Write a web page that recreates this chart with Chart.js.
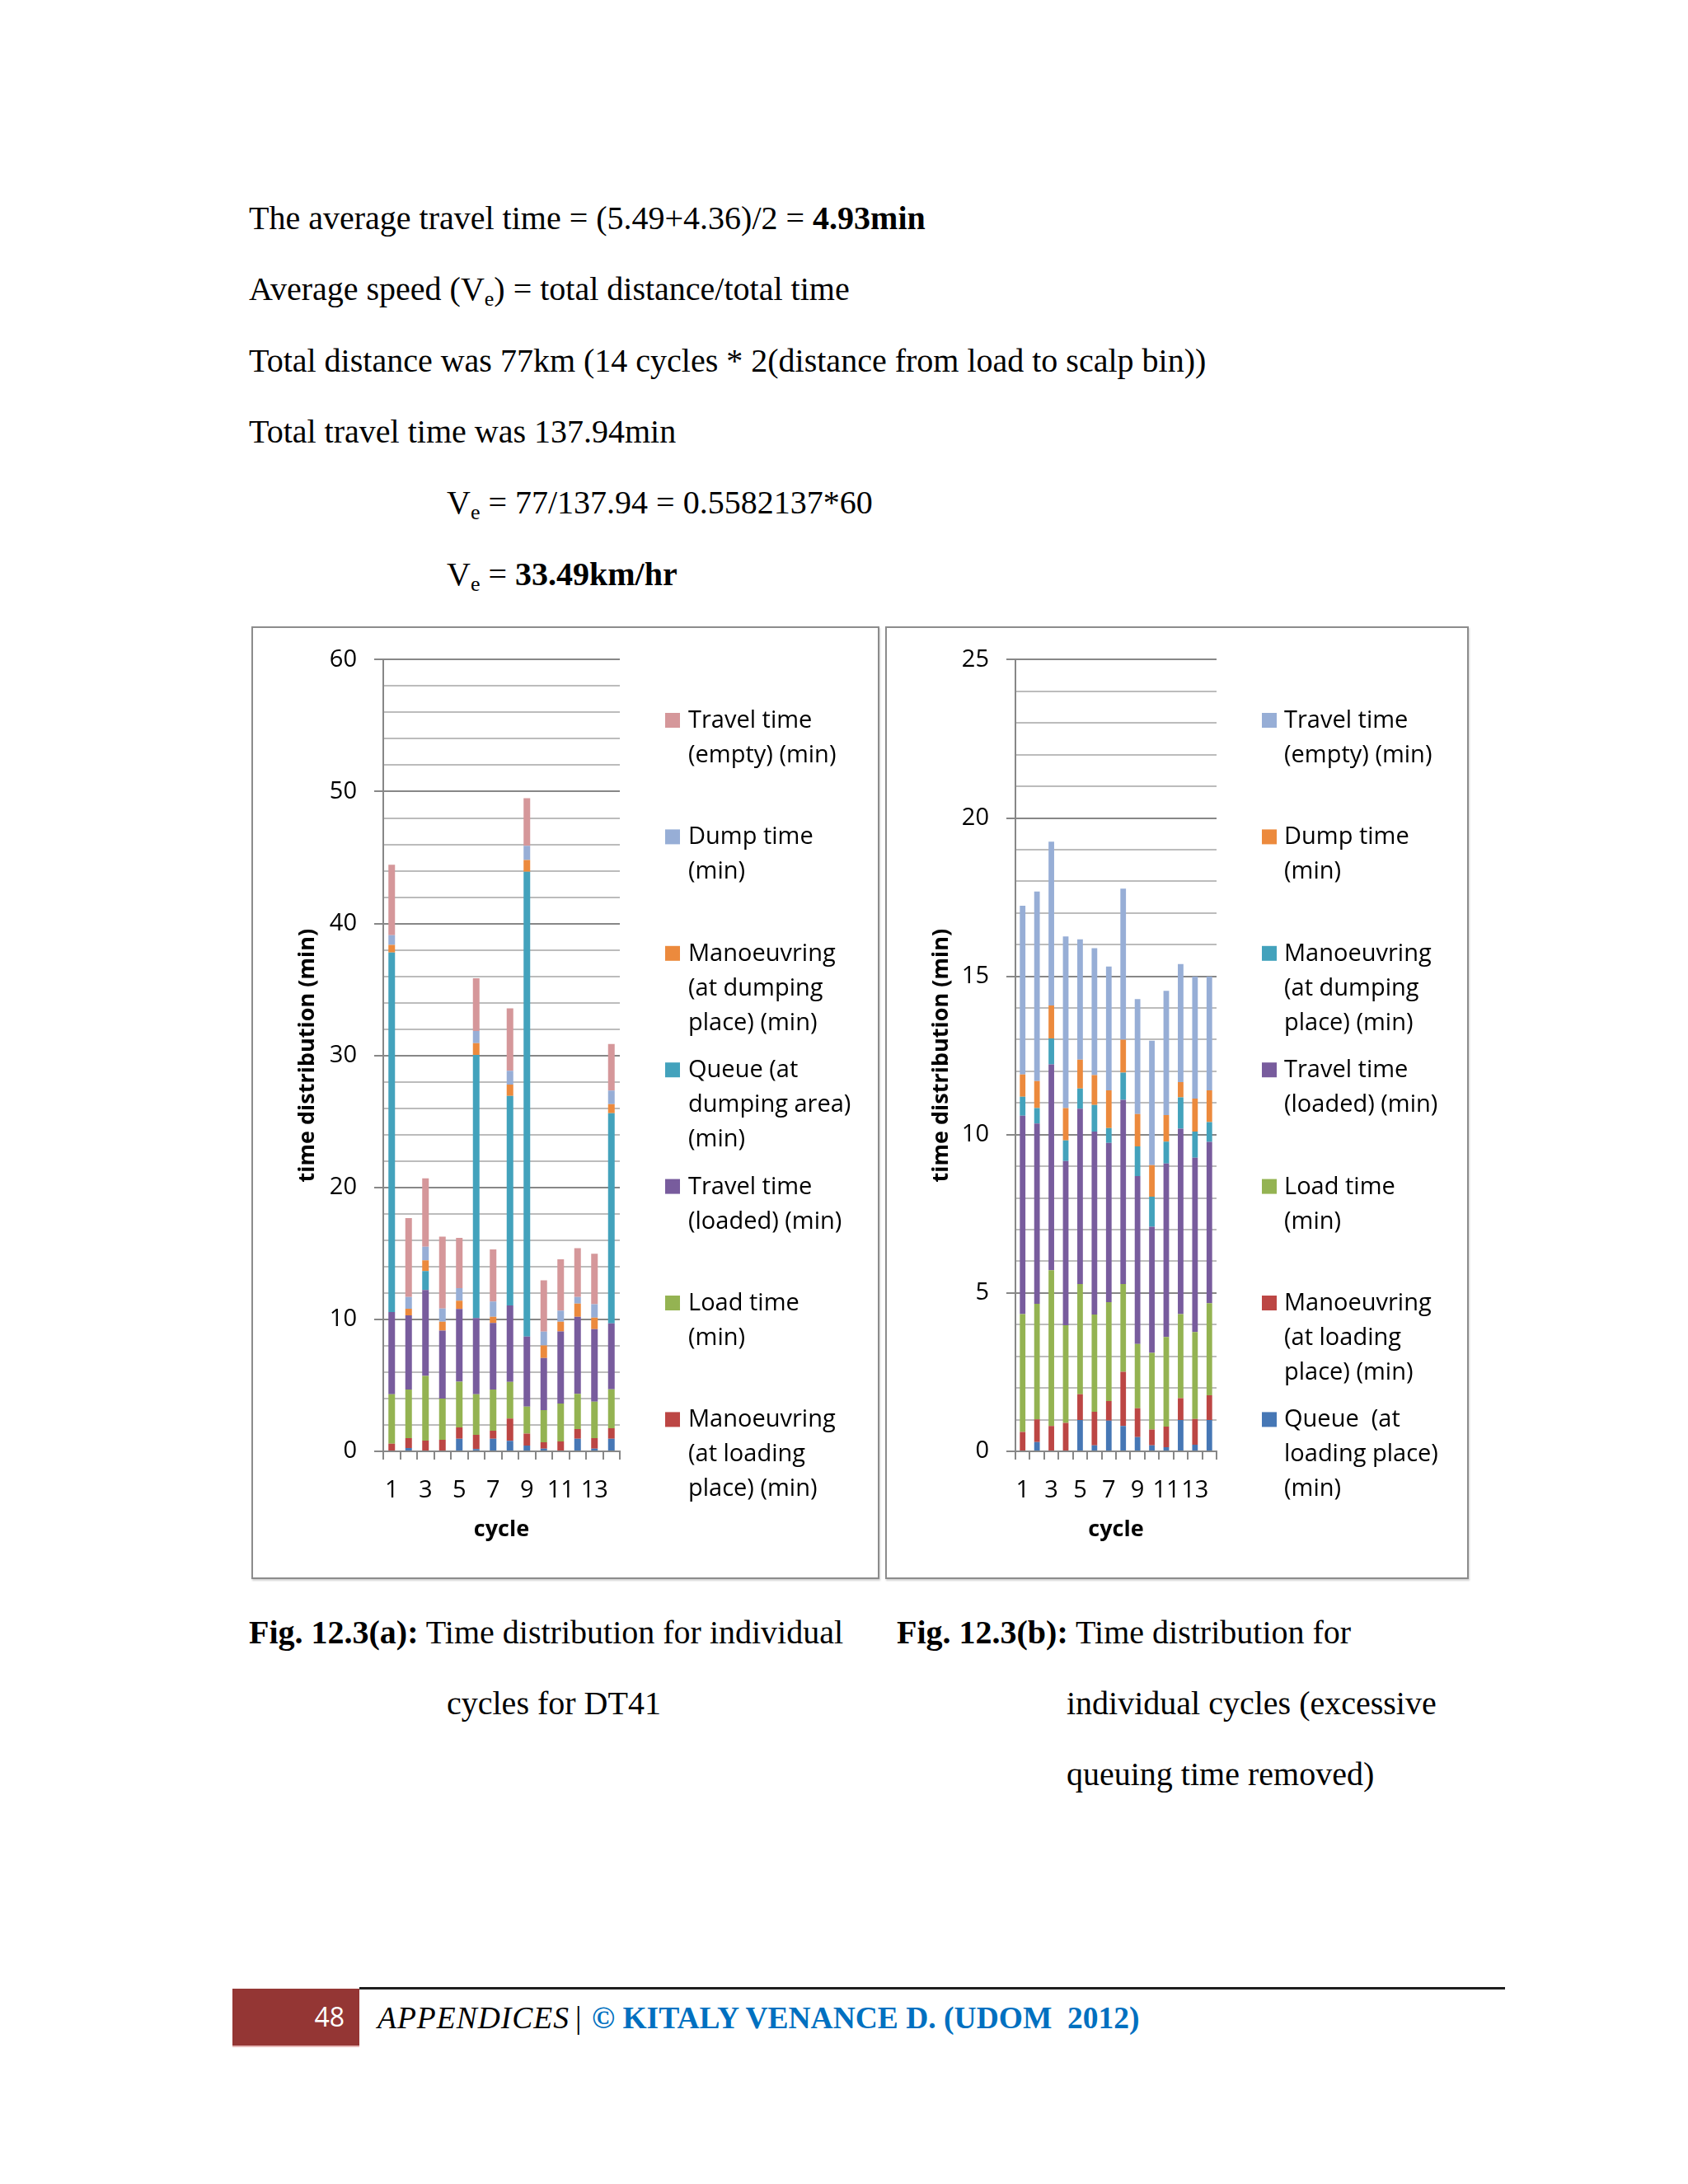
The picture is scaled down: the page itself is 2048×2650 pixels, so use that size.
<!DOCTYPE html>
<html>
<head>
<meta charset="utf-8">
<script src="https://cdn.jsdelivr.net/npm/chart.js@4.4.0/dist/chart.umd.min.js"></script>
<style>
html, body { margin: 0; padding: 0; background: #fff; }
body { width: 2048px; height: 2650px; position: relative; overflow: hidden;
       font-family: "Liberation Serif", "Times New Roman", serif; color: #000; }
.ln { position: absolute; font-size: 40px; line-height: 40px; white-space: pre; }
.ln sub { font-size: 26px; line-height: 0; vertical-align: -7px; }
.box { position: absolute; border: 2px solid #8c8c8c; box-sizing: border-box; background: #fff;
       box-shadow: 1px 2px 2px rgba(0,0,0,0.18); }
.box canvas { display: block; }
.foot-num { position: absolute; left: 282px; top: 2413px; width: 154px; height: 71px; background: #943634;
            border-bottom: 2px solid #e6b9b8; box-sizing: border-box; }
.foot-num span { position: absolute; right: 18px; top: 14px; color: #fff; font-family: "Open Sans", sans-serif; font-size: 32px; line-height: 40px; }
.foot-rule { position: absolute; left: 436px; top: 2411px; width: 1390px; height: 3px; background: #1e1e1e; }
.foot-txt { position: absolute; top: 2429px; font-size: 37.5px; line-height: 40px; white-space: pre; }
</style>
</head>
<body>

<div class="ln" style="left:302px; top:245px">The average travel time = (5.49+4.36)/2 = <b>4.93min</b></div>
<div class="ln" style="left:302px; top:331px">Average speed (V<sub>e</sub>) = total distance/total time</div>
<div class="ln" style="left:302px; top:418px">Total distance was 77km (14 cycles * 2(distance from load to scalp bin))</div>
<div class="ln" style="left:302px; top:504px">Total travel time was 137.94min</div>
<div class="ln" style="left:542px; top:590px">V<sub>e</sub> = 77/137.94 = 0.5582137*60</div>
<div class="ln" style="left:542px; top:677px">V<sub>e</sub> = <b>33.49km/hr</b></div>

<div class="box" style="left:305px; top:760px; width:762px; height:1156px"><canvas id="chartA" width="758" height="1152"></canvas></div>
<div class="box" style="left:1074px; top:760px; width:708px; height:1156px"><canvas id="chartB" width="704" height="1152"></canvas></div>

<div class="ln" style="left:302px; top:1961px"><b>Fig. 12.3(a):</b> Time distribution for individual</div>
<div class="ln" style="left:542px; top:2047px">cycles for DT41</div>
<div class="ln" style="left:1088px; top:1961px"><b>Fig. 12.3(b):</b> Time distribution for</div>
<div class="ln" style="left:1294px; top:2047px">individual cycles (excessive</div>
<div class="ln" style="left:1294px; top:2133px">queuing time removed)</div>

<div class="foot-num"><span>48</span></div>
<div class="foot-rule"></div>
<div class="foot-txt" style="left:458px; font-style:italic; letter-spacing:1px">APPENDICES</div>
<div class="foot-txt" style="left:698px">|</div>
<div class="foot-txt" style="left:718px; color:#0070c0; font-weight:bold">© KITALY VENANCE D. (UDOM  2012)</div>

<script>
const cycles = ['1', '2', '3', '4', '5', '6', '7', '8', '9', '10', '11', '12', '13', '14'];

// Fig 12.3(a) - all queue times (bottom to top of each bar)
const queueLoadA    = [0, 0.25, 0, 0, 0.96, 0.17, 0.96, 0.79, 0.44, 0.21, 0, 0.96, 0.21, 0.96];
const manLoadA      = [0.58, 0.75, 0.81, 0.87, 0.85, 1.08, 0.6, 1.7, 0.91, 0.48, 0.75, 0.73, 0.79, 0.79];
const loadA         = [3.74, 3.68, 4.91, 3.12, 3.47, 3.08, 3.12, 2.77, 2.04, 2.43, 2.87, 2.66, 2.77, 2.95];
const travelLoadedA = [6.24, 5.63, 6.51, 5.16, 5.51, 5.78, 5.05, 5.8, 5.3, 3.95, 5.47, 5.84, 5.49, 4.99];
const queueDumpA    = [27.25, 0, 1.43, 0, 0, 19.94, 0, 15.87, 35.24, 0, 0, 0, 0, 15.94];
const manDumpA      = [0.58, 0.5, 0.81, 0.67, 0.62, 0.89, 0.46, 0.87, 0.89, 0.96, 0.73, 1.0, 0.87, 0.68];
const dumpA         = [0.73, 0.89, 1.04, 1.0, 0.96, 0.91, 1.16, 1.04, 1.08, 1.04, 0.85, 0.5, 1.02, 1.04];
const travelEmptyA  = [5.33, 5.97, 5.18, 5.45, 3.8, 4.0, 3.95, 4.73, 3.6, 3.89, 3.89, 3.7, 3.83, 3.52];

// Fig 12.3(b) - excessive queuing removed
const queueLoadB    = [0, 0.29, 0, 0, 0.99, 0.19, 0.97, 0.8, 0.45, 0.19, 0.13, 0.99, 0.21, 0.99];
const manLoadB      = [0.61, 0.72, 0.8, 0.9, 0.81, 1.06, 0.62, 1.71, 0.91, 0.5, 0.65, 0.69, 0.81, 0.78];
const loadB         = [3.72, 3.65, 4.92, 3.08, 3.48, 3.07, 3.12, 2.77, 2.03, 2.42, 2.83, 2.65, 2.75, 2.91];
const travelLoadedB = [6.27, 5.69, 6.5, 5.19, 5.54, 5.78, 5.03, 5.82, 5.3, 3.98, 5.48, 5.86, 5.5, 5.09];
const manDumpB      = [0.6, 0.49, 0.82, 0.65, 0.64, 0.84, 0.47, 0.86, 0.94, 0.95, 0.69, 0.99, 0.83, 0.63];
const dumpB         = [0.7, 0.85, 1.04, 1.02, 0.91, 0.94, 1.19, 1.04, 1.02, 1.0, 0.84, 0.48, 1.04, 1.0];
const travelEmptyB  = [5.33, 5.99, 5.17, 5.42, 3.8, 4.01, 3.91, 4.77, 3.63, 3.93, 3.92, 3.73, 3.85, 3.59];

const yTicksA = [0, 10, 20, 30, 40, 50, 60];
const yTicksB = [0, 5, 10, 15, 20, 25];

const gridDark = '#878787';
const gridLight = '#bcbcbc';
const sans = '"Open Sans", sans-serif';

function ds(label, lines, data, color, hide) {
    return { label: label, legendLines: lines, hideInLegend: !!hide, data: data,
             backgroundColor: color, borderWidth: 0, barPercentage: 0.39, categoryPercentage: 1 };
}

// legend drawn to the right, one entry per fixed slot like the Excel original
const sideLegend = {
    id: 'sideLegend',
    afterDraw(chart, args, opts) {
        const ctx = chart.ctx;
        ctx.save();
        ctx.font = '29px ' + sans;
        ctx.textBaseline = 'alphabetic';
        const items = chart.data.datasets.slice().reverse().filter(d => !d.hideInLegend);
        items.forEach((d, i) => {
            const base = opts.top + i * opts.spacing;
            ctx.fillStyle = d.backgroundColor;
            ctx.fillRect(opts.markerX, base - 18, 18, 18);
            ctx.fillStyle = '#000';
            d.legendLines.forEach((line, j) => ctx.fillText(line, opts.textX, base + j * opts.lineHeight));
        });
        ctx.restore();
    }
};

function makeChart(id, datasets, L) {
    const ox = L.box.left + 2, oy = L.box.top + 2;
    const W = L.box.width - 4, H = L.box.height - 4;
    const tickSet = L.ticks;
    const major = tickSet[1] - tickSet[0];
    return new Chart(document.getElementById(id), {
        type: 'bar',
        data: { labels: cycles, datasets: datasets },
        plugins: [sideLegend],
        options: {
            responsive: false,
            animation: false,
            devicePixelRatio: 1,
            layout: { padding: { left: 0, top: L.plot.top - oy, right: ox + W - L.plot.right, bottom: 0 } },
            plugins: {
                legend: { display: false },
                tooltip: { enabled: false },
                sideLegend: { markerX: L.legendX - ox, textX: L.legendTextX - ox, top: 883 - oy, spacing: 141.4, lineHeight: 42 }
            },
            scales: {
                x: {
                    stacked: true,
                    offset: true,
                    grid: { display: true, offset: true, drawOnChartArea: false, drawTicks: true, tickLength: 10, color: gridDark, lineWidth: 2 },
                    border: { display: true, color: gridDark, width: 2 },
                    ticks: { autoSkip: false, maxRotation: 0, padding: 20, color: '#000', font: { family: sans, size: 29 },
                             callback: (v, i) => (i % 2 === 0 ? cycles[i] : '') },
                    title: { display: true, text: 'cycle', color: '#000', font: { family: sans, size: 27, weight: 'bold' },
                             padding: { top: 0, bottom: 41 } },
                    afterFit: s => { s.height = oy + H - L.plot.bottom; }
                },
                y: {
                    stacked: true,
                    min: 0,
                    max: tickSet[tickSet.length - 1],
                    ticks: { stepSize: L.minor, autoSkip: false, padding: 21, color: '#000', font: { family: sans, size: 29 },
                             callback: v => (tickSet.includes(v) ? v : '') },
                    grid: { lineWidth: 2, tickLength: 11,
                            color: c => (c.tick && c.tick.value % major === 0 ? gridDark : gridLight),
                            tickColor: c => (c.tick && c.tick.value % major === 0 ? gridDark : 'rgba(0,0,0,0)') },
                    border: { display: true, color: gridDark, width: 2 },
                    title: { display: true, text: 'time distribution (min)', color: '#000', font: { family: sans, size: 27, weight: 'bold' },
                             padding: { top: 50, bottom: 0 } },
                    afterFit: s => { s.width = L.plot.left - ox; }
                }
            }
        }
    });
}

const blue = '#4677b5', red = '#bc4644', green = '#94b352', purple = '#785c9d',
      teal = '#43a2bc', orange = '#ec8a3d', lightBlue = '#97aed6', pink = '#d5979a';

makeChart('chartA', [
    ds('Queue (at loading place) (min)', ['Queue (at', 'loading place)', '(min)'], queueLoadA, blue, true),
    ds('Manoeuvring (at loading place) (min)', ['Manoeuvring', '(at loading', 'place) (min)'], manLoadA, red),
    ds('Load time (min)', ['Load time', '(min)'], loadA, green),
    ds('Travel time (loaded) (min)', ['Travel time', '(loaded) (min)'], travelLoadedA, purple),
    ds('Queue (at dumping area) (min)', ['Queue (at', 'dumping area)', '(min)'], queueDumpA, teal),
    ds('Manoeuvring (at dumping place) (min)', ['Manoeuvring', '(at dumping', 'place) (min)'], manDumpA, orange),
    ds('Dump time (min)', ['Dump time', '(min)'], dumpA, lightBlue),
    ds('Travel time (empty) (min)', ['Travel time', '(empty) (min)'], travelEmptyA, pink)
], {
    box: { left: 305, top: 760, width: 762, height: 1156 },
    plot: { left: 465, right: 752, top: 797, bottom: 1761 },
    ticks: yTicksA, minor: 2,
    legendX: 807, legendTextX: 835
});

makeChart('chartB', [
    ds('Queue  (at loading place) (min)', ['Queue  (at', 'loading place)', '(min)'], queueLoadB, blue),
    ds('Manoeuvring (at loading place) (min)', ['Manoeuvring', '(at loading', 'place) (min)'], manLoadB, red),
    ds('Load time (min)', ['Load time', '(min)'], loadB, green),
    ds('Travel time (loaded) (min)', ['Travel time', '(loaded) (min)'], travelLoadedB, purple),
    ds('Manoeuvring (at dumping place) (min)', ['Manoeuvring', '(at dumping', 'place) (min)'], manDumpB, teal),
    ds('Dump time (min)', ['Dump time', '(min)'], dumpB, orange),
    ds('Travel time (empty) (min)', ['Travel time', '(empty) (min)'], travelEmptyB, lightBlue)
], {
    box: { left: 1074, top: 760, width: 708, height: 1156 },
    plot: { left: 1232, right: 1476, top: 797, bottom: 1761 },
    ticks: yTicksB, minor: 1,
    legendX: 1531, legendTextX: 1558
});
</script>
</body>
</html>
